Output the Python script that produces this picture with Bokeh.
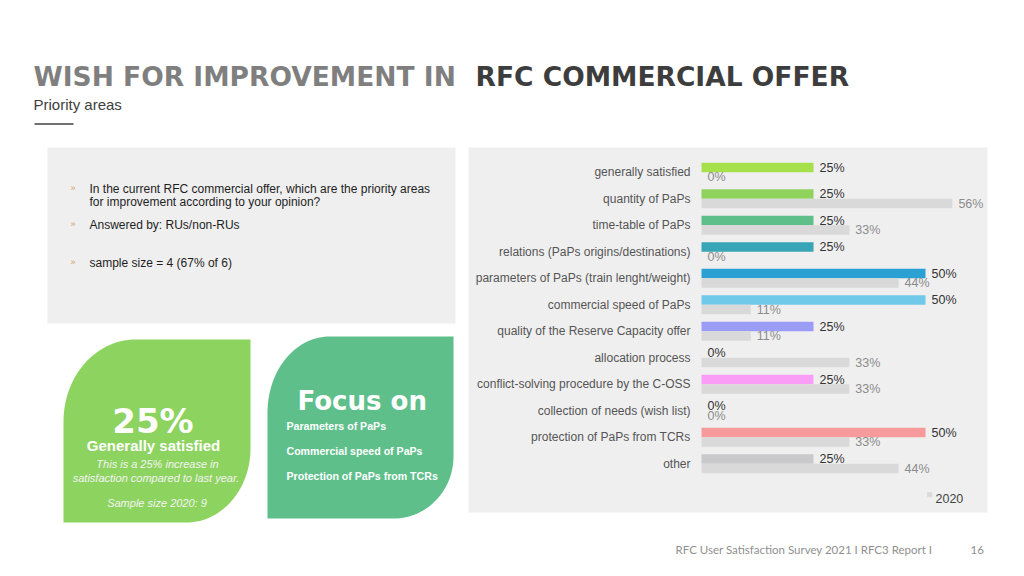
import math
from bokeh.plotting import figure
from bokeh.models import Range1d, ColumnDataSource
from bokeh.core.properties import value
from bokeh.embed import file_html
from bokeh.resources import INLINE

# ---------------- data ----------------
categories = [
    "generally satisfied",
    "quantity of PaPs",
    "time-table of PaPs",
    "relations (PaPs origins/destinations)",
    "parameters of PaPs (train lenght/weight)",
    "commercial speed of PaPs",
    "quality of the Reserve Capacity offer",
    "allocation process",
    "conflict-solving procedure by the C-OSS",
    "collection of needs (wish list)",
    "protection of PaPs from TCRs",
    "other",
]
values_2021 = [25, 25, 25, 25, 50, 50, 25, 0, 25, 0, 50, 25]
values_2020 = [0, 56, 33, 0, 44, 11, 11, 33, 33, 0, 33, 44]
colors_2021 = ["#a6e04b", "#8fd35c", "#5ebf8b", "#37a5b5", "#2aa0d3", "#70c9e9",
               "#9a9cf6", "#b9a6f3", "#fa9df7", "#f7b0c8", "#f79a9b", "#c9c9cb"]
color_2020 = "#d9d9d9"
legend_label = "2020"

focus_items = ["Parameters of PaPs", "Commercial speed of PaPs", "Protection of PaPs from TCRs"]

FONT = value("Liberation Sans")
WIDE_BOLD = value("DejaVu Sans")

# ---------------- figure (page coordinates) ----------------
W, H = 1008, 560
p = figure(width=W, height=H, x_range=Range1d(0, W), y_range=Range1d(H, 0),
           output_backend="svg", toolbar_location=None, min_border=0,
           x_axis_location=None, y_axis_location=None, outline_line_color=None)
p.grid.visible = False
p.background_fill_color = "white"
p.border_fill_color = "white"

# ranges for the bar chart
X0, PX_PER_PCT = 701.0, 4.48
Y0, ROW_PITCH = 171.8, 26.5
p.extra_x_ranges = {"pct": Range1d((0 - X0) / PX_PER_PCT, (W - X0) / PX_PER_PCT)}
p.extra_y_ranges = {"row": Range1d((H - Y0) / ROW_PITCH, (0 - Y0) / ROW_PITCH)}

# ---------------- title ----------------
p.text(x=[33], y=[76], text=["WISH FOR IMPROVEMENT IN"], text_font=WIDE_BOLD,
       text_font_style="bold", text_font_size="26.5px", text_color="#7f7f7f",
       text_baseline="alphabetic")
p.text(x=[475], y=[76], text=["RFC COMMERCIAL OFFER"], text_font=WIDE_BOLD,
       text_font_style="bold", text_font_size="26.5px", text_color="#3d3d3d",
       text_baseline="alphabetic")
p.text(x=[33], y=[104], text=["Priority areas"], text_font=FONT, text_font_size="15px",
       text_color="#404040", text_baseline="alphabetic")
p.segment(x0=[34], y0=[123.5], x1=[73], y1=[123.5], line_color="#404040", line_width=1.5)

# ---------------- panels ----------------
p.quad(left=[47], right=[455], top=[147], bottom=[323], fill_color="#efefef", line_color=None)
p.quad(left=[468], right=[987], top=[147], bottom=[512], fill_color="#efefef", line_color=None)

# info text
info_lines = [
    ("In the current RFC commercial offer, which are the priority areas", 188.5, True),
    ("for improvement according to your opinion?", 201.5, False),
    ("Answered by: RUs/non-RUs", 224, True),
    ("sample size = 4 (67% of 6)", 262.3, True),
]
for txt, yb, bullet in info_lines:
    p.text(x=[89], y=[yb], text=[txt], text_font=FONT, text_font_size="12px",
           text_color="#1e1e1e", text_baseline="alphabetic")
    if bullet:
        p.text(x=[70], y=[yb - 1], text=["»"], text_font=FONT, text_font_size="9px",
               text_color="#cfa064", text_baseline="alphabetic")

# ---------------- leaves ----------------
def leaf(x0, y0, x1, y1, rx_tl, ry_tl, rx_br, ry_br, n=30):
    xs, ys = [x0 + rx_tl, x1, x1], [y0, y0, y1 - ry_br]
    cx, cy = x1 - rx_br, y1 - ry_br
    for k in range(1, n + 1):
        t = (math.pi / 2) * k / n
        xs.append(cx + rx_br * math.cos(t)); ys.append(cy + ry_br * math.sin(t))
    xs += [x0, x0]; ys += [y1, y0 + ry_tl]
    cx, cy = x0 + rx_tl, y0 + ry_tl
    for k in range(1, n + 1):
        t = math.pi + (math.pi / 2) * k / n
        xs.append(cx + rx_tl * math.cos(t)); ys.append(cy + ry_tl * math.sin(t))
    return xs, ys

lx, ly = leaf(63, 339, 250, 522, 72, 82, 64, 74)
p.patch(lx, ly, fill_color="#8dd35f", line_color=None)
rx, ry = leaf(267, 336, 453, 518, 62, 76, 60, 62)
p.patch(rx, ry, fill_color="#5ebf8b", line_color=None)

# left leaf texts
p.text(x=[152.5], y=[420], text=[f"{values_2021[0]}%"], text_font=WIDE_BOLD,
       text_font_style="bold", text_font_size="34px", text_color="white",
       text_align="center", text_baseline="alphabetic")
p.text(x=[153], y=[445], text=["Generally satisfied"], text_font=FONT,
       text_font_style="bold", text_font_size="15px", text_color="white",
       text_align="center", text_baseline="alphabetic")
for txt, xc, yb in [("This is a 25% increase in", 157, 463.5),
                    ("satisfaction compared to last year.", 155.5, 477.3),
                    ("Sample size 2020: 9", 156.5, 502.3)]:
    p.text(x=[xc], y=[yb], text=[txt], text_font=FONT, text_font_style="italic",
           text_font_size="11px", text_color="#f4f4f4", text_align="center",
           text_baseline="alphabetic")

# right leaf texts
p.text(x=[297], y=[400.7], text=["Focus on"], text_font=WIDE_BOLD, text_font_style="bold",
       text_font_size="26px", text_color="white", text_baseline="alphabetic")
for txt, yb in zip(focus_items, [425, 450.3, 475.7]):
    p.text(x=[286], y=[yb], text=[txt], text_font=FONT, text_font_style="bold",
           text_font_size="10.6px", text_color="white", text_baseline="alphabetic")

# ---------------- bar chart ----------------
rows = list(range(len(categories)))
src = ColumnDataSource(dict(
    row=rows,
    y21=[r - 0.179 for r in rows],
    y20=[r + 0.179 for r in rows],
    v21=values_2021,
    v20=values_2020,
    lab21=[f"{v}%" for v in values_2021],
    lab20=[f"{v}%" for v in values_2020],
    color=colors_2021,
    cat=categories,
))
bar_h = 9.5 / ROW_PITCH
p.hbar(y="y21", left=0, right="v21", height=bar_h, fill_color="color", line_color=None,
       source=src, x_range_name="pct", y_range_name="row")
p.hbar(y="y20", left=0, right="v20", height=bar_h, fill_color=color_2020, line_color=None,
       source=src, x_range_name="pct", y_range_name="row")
p.text(x=0, y="row", text="cat", x_offset=-11, source=src, x_range_name="pct",
       y_range_name="row", text_font=FONT, text_font_size="12px", text_color="#555555",
       text_align="right", text_baseline="middle")
p.text(x="v21", y="y21", text="lab21", x_offset=6, source=src, x_range_name="pct",
       y_range_name="row", text_font=FONT, text_font_size="12.5px", text_color="#333333",
       text_align="left", text_baseline="middle")
p.text(x="v20", y="y20", text="lab20", x_offset=6, source=src, x_range_name="pct",
       y_range_name="row", text_font=FONT, text_font_size="12.5px", text_color="#8c8c8c",
       text_align="left", text_baseline="middle")

# legend
p.quad(left=[926.7], right=[931.7], top=[491.7], bottom=[496.7], fill_color=color_2020,
       line_color=None)
p.text(x=[935], y=[498.3], text=[legend_label], text_font=FONT, text_font_size="12.5px",
       text_color="#444444", text_baseline="alphabetic")

# footer
p.text(x=[675], y=[549], text=["RFC User Satisfaction Survey 2021 I RFC3 Report I"],
       text_font=value("Lato"), text_font_size="11.5px", text_color="#8f8f8f",
       text_baseline="alphabetic")
p.text(x=[970], y=[549], text=["16"], text_font=value("Lato"), text_font_size="11.5px",
       text_color="#8f8f8f", text_baseline="alphabetic")

open("out.html", "w").write(file_html(p, INLINE))
